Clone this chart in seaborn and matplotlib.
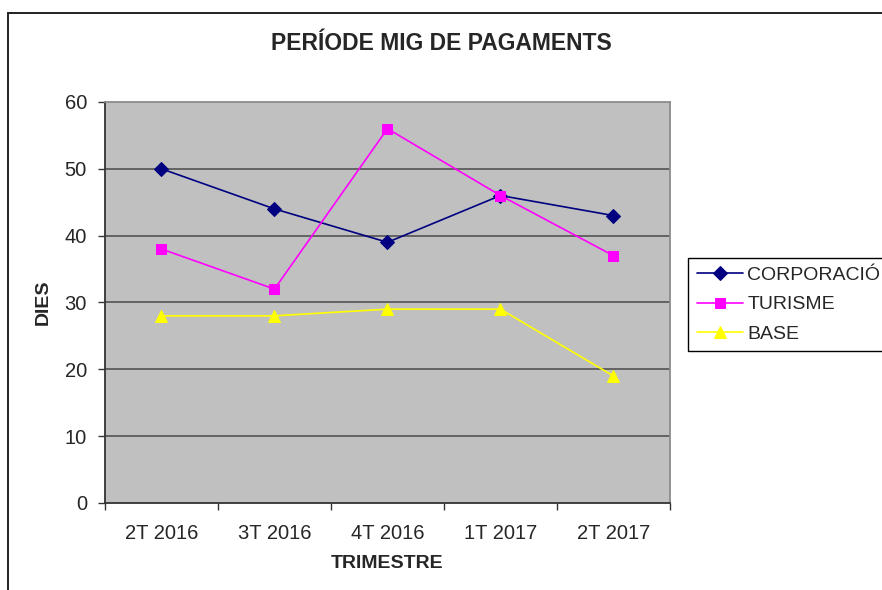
"""
Line chart: average payment period (days) per quarter and segment.
"""
import pandas as pd
import matplotlib
matplotlib.use('Agg')
import matplotlib.pyplot as plt
from matplotlib.lines import Line2D
import seaborn as sns

# Data
trimestres = ['2T 2016', '3T 2016', '4T 2016', '1T 2017', '2T 2017']
corporacio = [50, 44, 39, 46, 43]
turisme = [38, 32, 56, 46, 37]
base = [28, 28, 29, 29, 19]
y_ticks = [0, 10, 20, 30, 40, 50, 60]

sns.set_style('white')
plt.rcParams['font.family'] = ['Liberation Sans', 'DejaVu Sans']

fig = plt.figure(figsize=(8.82, 5.9), dpi=100)
ax = fig.add_axes([0.119, 0.1475, 0.6406, 0.6797])
ax.set_facecolor('#C0C0C0')

idx = list(range(len(trimestres)))
series = [
    ('CORPORACIÓ', corporacio, '#000080', 'D', 7),
    ('TURISME', turisme, '#FF00FF', 's', 7.5),
    ('BASE', base, '#FFFF00', '^', 9),
]

# horizontal gridlines
for y in y_ticks[1:-1]:
    ax.axhline(y, color='#4a4a4a', linewidth=1.1, zorder=1)

for name, vals, color, marker, ms in series:
    df = pd.DataFrame({'x': idx, 'y': vals})
    sns.lineplot(data=df, x='x', y='y', ax=ax, color=color, marker=marker,
                 markersize=ms, markeredgecolor=color, linewidth=1.2,
                 label=name, zorder=3)

ax.set_xlim(-0.5, len(trimestres) - 0.5)
ax.set_ylim(0, 60)
ax.set_yticks(y_ticks)
ax.set_xticks(idx)
ax.set_xticklabels(trimestres)
ax.set_xticks([i - 0.5 for i in range(len(trimestres) + 1)], minor=True)
ax.tick_params(axis='x', which='major', length=0, pad=15, labelsize=14.5)
ax.tick_params(axis='x', which='minor', length=5, width=1, color='#333333',
               direction='out', bottom=True)
ax.tick_params(axis='y', length=5, width=1, color='#333333', direction='out',
               left=True, pad=8, labelsize=14.5)

for side in ['left', 'bottom']:
    ax.spines[side].set_color('#333333')
    ax.spines[side].set_linewidth(1.3)
for side in ['right', 'top']:
    ax.spines[side].set_visible(True)
    ax.spines[side].set_color('#8c8c8c')
    ax.spines[side].set_linewidth(1.3)

ax.set_xlabel('TRIMESTRE', fontsize=14, fontweight='bold', labelpad=9)
ax.set_ylabel('DIES', fontsize=14, fontweight='bold', labelpad=9)
fig.text(0.5, 0.927, 'PERÍODE MIG DE PAGAMENTS', ha='center', va='center',
         fontsize=16.5, fontweight='bold')

leg = ax.legend(loc='upper left', bbox_to_anchor=(0.78, 0.563),
                bbox_transform=fig.transFigure, fontsize=14,
                frameon=True, fancybox=False, framealpha=1,
                edgecolor='black', handlelength=2.4, labelspacing=0.6,
                borderpad=0.45, handletextpad=0.2, borderaxespad=0)
leg.get_frame().set_linewidth(1.0)

# outer chart-area frame (only top and left edges visible)
fig.add_artist(Line2D([8 / 882, 1], [1 - 13 / 590] * 2, color='#222222',
                      linewidth=1.4, transform=fig.transFigure))
fig.add_artist(Line2D([8 / 882] * 2, [0, 1 - 13 / 590], color='#222222',
                      linewidth=1.4, transform=fig.transFigure))

fig.savefig('out.png', dpi=100)
plt.close(fig)
